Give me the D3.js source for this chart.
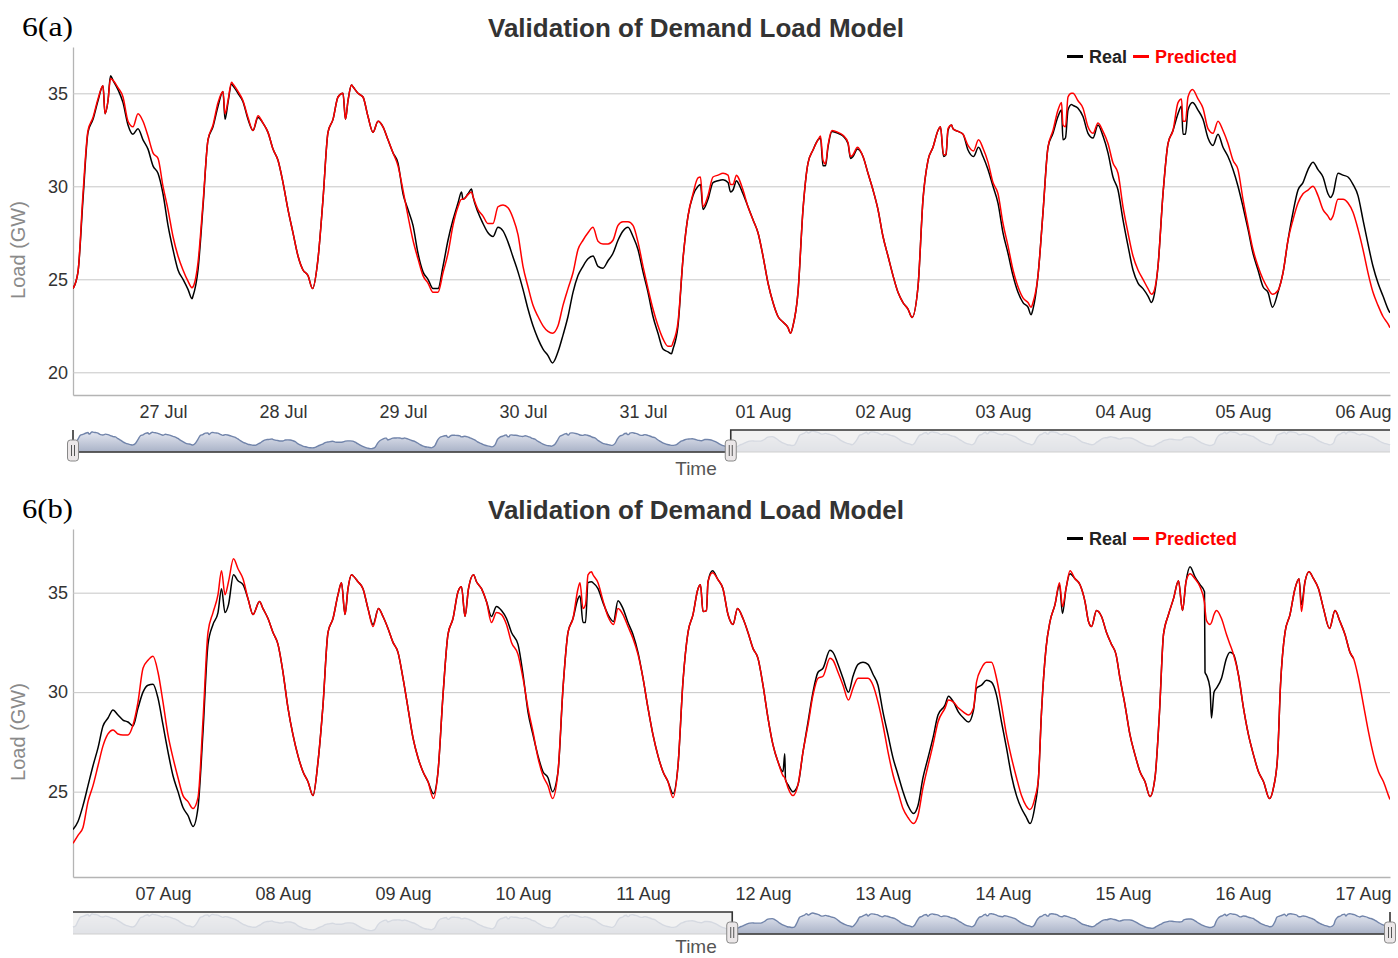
<!DOCTYPE html>
<html>
<head>
<meta charset="utf-8">
<script src="https://cdn.jsdelivr.net/npm/d3@7/dist/d3.min.js"></script>
<style>
html,body{margin:0;padding:0;background:#fff;}
svg{display:block;}
</style>
</head>
<body>
<svg id="chart"></svg>
<script>
// ================= DATA =================
const chartTitle = "Validation of Demand Load Model";
const yAxisTitle = "Load (GW)";
const xAxisTitle = "Time";
const seriesNames = ["Real", "Predicted"];
const seriesColors = ["#000000", "#ff0000"];

// Panel (a): hours since 26 Jul 00:00
const hoursA = [
  6,7,8,9,10,11,12,12.4,13,13.5,14,15,16,17,18,19,20,21,22,23,
  24,25,26,27,28,29,29.8,30,31,32,33,34,35,36,36.4,37,37.7,38,39,40,41,42,43,44,45,46,47,
  48,49,50,51,52,53,53.9,55,56,57,58,59,60,60.5,61,61.7,62,63,64,65,66,67,68,69,70,71,
  72,73,74,75,76,77,78,79,80,81,82,83,83.7,84,85,85.7,86,87,88,89,90,91,92,93,94,95,
  96,97,98,99,100,101,101.9,103,104,105,106,107,108,109,110,111,112,113,114,115,116,117,118,119,
  120,121,122,123,124,125,125.7,126,127,128,129,130,131,131.5,132,133,134,135,136,137,137.5,138,138.7,139,140,141,142,143,
  144,145,146,147,148,149,149.5,150,151,152,153,154,155,155.5,156,156.5,157,157.8,159,160,161,161.5,162,162.9,164,165,166,167,
  168,169,170,171,172,173,173.8,175,176,177,178,179,179.5,180.1,180.6,181,181.7,182,183,184,185,186.1,187.1,188,189,190,191,
  192,193,194,195,196,197,197.6,198,199,200,201,202,203,203.7,204,204.5,205,205.7,206,207,208,209,210,211,212,213,214,215,
  216,217,218,219,220,221,221.7,222,223,224,225,226,227,227.7,228,228.5,229,229.9,231,232,233,234,235,236,237,238,239,
  240,241,242,243,244,245,245.9,247,248,249,250,251,252,253,254,255,256,257,257.5,258,259,260,261,262,263,264,265,266,267,268,269,269.4
];
const realA = [
  24.5,25.4,29.3,32.9,33.6,34.6,35.4,33.9,34.6,35.95,35.7,35.2,34.5,33.3,32.8,33.1,32.5,32.0,31.1,30.7,
  29.6,27.9,26.6,25.5,25.0,24.46,23.96,24.1,25.5,28.9,32.5,33.2,34.3,35.1,33.6,34.5,35.5,35.4,35.0,34.55,33.6,33.0,33.7,33.4,32.9,32.0,31.4,
  30.2,28.75,27.5,26.25,25.5,25.2,24.5,26.1,29.3,32.9,33.6,34.8,35.0,33.6,34.6,35.45,35.35,35.0,34.8,33.75,32.9,33.5,33.2,32.5,31.8,31.25,
  29.6,28.75,27.9,26.4,25.4,25.0,24.5,24.5,25.7,27.1,28.2,29.1,29.7,29.3,29.6,29.85,29.45,28.6,28.0,27.5,27.3,27.8,27.6,27.0,26.2,25.4,
  24.46,23.4,22.5,21.8,21.25,20.9,20.5,21.1,22.0,23.0,24.3,25.2,25.7,26.1,26.25,25.7,25.6,26.0,26.4,27.1,27.6,27.8,27.3,26.6,
  25.4,24.3,23.0,22.1,21.25,21.1,21.0,21.25,22.5,26.1,28.4,29.5,30.0,30.1,28.75,29.3,30.2,30.3,30.35,30.2,29.7,29.8,30.3,30.2,29.6,28.9,28.2,27.5,
  26.25,24.8,23.75,23.0,22.7,22.4,22.1,22.5,24.3,28.75,31.25,31.95,32.5,32.6,31.1,31.1,32.1,32.95,32.85,32.7,32.3,31.5,31.6,32.0,31.6,30.7,29.8,28.75,
  27.3,26.25,25.2,24.3,23.75,23.4,22.95,24.6,29.3,31.4,32.1,33.0,33.2,31.6,31.7,33.0,33.3,33.1,32.95,32.8,31.95,31.6,32.1,31.6,30.9,30.0,29.1,
  27.5,26.4,25.2,24.3,23.75,23.5,23.1,23.4,25.2,28.6,32.1,32.85,33.75,34.1,32.5,32.6,34.1,34.4,34.35,34.2,33.75,32.85,32.6,33.3,32.7,31.8,30.5,29.8,
  28.2,26.8,25.5,24.8,24.5,24.1,23.75,23.9,25.7,29.6,32.3,33.0,33.9,34.3,32.8,32.8,34.1,34.5,34.1,33.6,32.6,32.2,32.8,32.1,31.6,30.9,30.0,
  28.9,27.7,26.4,25.5,24.6,24.3,23.5,24.3,25.35,27.1,28.6,29.8,30.2,30.9,31.3,30.9,30.5,29.6,29.4,29.6,30.7,30.6,30.5,30.1,29.5,28.2,26.9,25.7,24.8,24.1,23.4,23.2
];
const predA = [
  24.5,25.4,29.6,33.0,33.7,34.7,35.4,33.9,34.6,35.8,35.7,35.3,34.8,33.5,33.2,33.9,33.5,32.7,31.8,31.5,
  30.0,28.75,27.3,26.25,25.5,24.9,24.55,24.6,25.9,29.1,32.5,33.3,34.5,35.1,33.9,34.6,35.6,35.5,35.1,34.6,33.7,33.0,33.8,33.4,32.9,32.0,31.4,
  30.2,28.75,27.5,26.25,25.5,25.2,24.5,26.1,29.3,32.9,33.6,34.8,35.0,33.6,34.6,35.45,35.35,35.0,34.8,33.75,32.9,33.5,33.2,32.5,31.8,31.1,
  29.8,28.4,27.1,26.1,25.2,24.8,24.3,24.3,25.35,26.4,27.9,28.9,29.3,29.3,29.55,29.7,29.45,28.75,28.4,28.0,28.0,28.9,29.0,28.85,28.3,27.4,
  25.7,24.6,23.6,23.0,22.5,22.2,22.1,22.5,23.6,24.5,25.35,26.6,27.1,27.5,27.8,27.05,26.9,26.9,27.1,27.9,28.1,28.1,27.9,27.0,
  25.7,24.5,23.4,22.5,21.8,21.4,21.4,21.6,22.7,26.1,28.4,29.6,30.45,30.5,28.9,29.5,30.5,30.6,30.7,30.6,30.1,30.1,30.6,30.5,29.8,28.9,28.2,27.5,
  26.25,24.8,23.75,23.0,22.7,22.4,22.1,22.5,24.3,28.75,31.25,31.95,32.5,32.7,31.4,31.2,32.2,33.0,32.9,32.75,32.35,31.6,31.7,32.1,31.6,30.7,29.8,28.75,
  27.3,26.25,25.2,24.3,23.75,23.4,22.95,24.6,29.3,31.4,32.1,33.0,33.2,31.7,31.7,33.1,33.3,33.1,32.95,32.8,32.2,31.9,32.5,32.05,31.3,30.2,29.6,
  28.0,26.8,25.5,24.6,24.0,23.75,23.5,23.75,25.2,28.6,32.1,33.0,34.1,34.5,33.3,33.2,34.8,35.0,35.0,34.6,34.2,33.2,32.85,33.4,32.95,32.3,31.25,30.7,
  28.9,27.5,26.25,25.5,25.0,24.5,24.2,24.25,25.7,29.6,32.3,33.0,34.5,34.7,33.5,33.5,34.8,35.2,34.7,34.2,33.1,32.85,33.5,33.0,32.3,31.4,30.9,
  29.3,27.9,26.6,25.7,25.0,24.5,24.2,24.4,25.35,27.1,28.2,29.1,29.6,29.8,30.0,29.5,28.75,28.4,28.2,28.4,29.3,29.3,29.1,28.6,27.7,26.6,25.35,24.3,23.6,23.0,22.6,22.4
];

// Panel (b): hours since 06 Aug 00:00
const hoursB = [
  6,7,8,9,10,11,12,13,14,15,16,17,18,19,20,21,22,23,
  24,25,26,27,28,29,30,31,32,33,34,35,35.7,36.4,37.1,38.1,39,40,41,42,43.3,44,45,46,47,
  48,49,50,51,52,53,54,55,56,57,58,59,59.7,60.4,61,61.7,62,63,64,65,66,67.1,68,69,70,71,
  72,73,74,75,76,77,78.1,79,80,81,82,83,83.7,84.4,85.1,86.1,86.7,87.7,88.7,89.7,90.7,91.7,92.7,93.7,95,
  96,97,98,99,100,101,101.9,103,104,105,106,107,107.4,108,108.5,109,109.7,110,111,112,113,114.1,115,116,117,118,119,
  120,121,122,123,124,125,126,127,128,129,130,131,131.5,132,132.7,133,133.9,135,136,137,138,138.9,140,141,142,143,
  144,145,146,147,148,148.35,148.5,149,150,151,152,153,154,155,156,157.4,158,159,160,161.1,162,163,164,165,166,167,
  168,169,170,171,172,173,174.1,175,176,177,178,179,180.4,181.1,182.1,183.1,184.1,185.1,186.1,186.7,187.7,188.7,189.7,190.7,191.7,
  192.7,193.7,194.7,195.7,196.6,197.4,198.4,199.1,199.7,200.6,201.4,202.4,203.3,203.9,204.6,205.4,206.4,207.4,208.4,209.1,209.7,210.7,211.7,212.7,213.7,214.6,215.4,
  216.4,217.4,218.4,219.4,220.4,221.4,222.4,223.3,224.1,225.1,226.1,227.1,227.9,228.6,229.4,230.4,231.4,232.3,232.4,232.7,233.4,233.7,234.2,234.7,235.7,236.7,237.4,238.1,239.1,
  240.1,241.1,242.1,243.1,244.1,245.3,246.1,246.9,247.5,248.4,249.4,250.4,251.2,251.7,252.4,253.2,254.1,255.1,256.1,257.3,258.4,259.4,260.4,261.4,262.1,263.1,264.1,265.1,266.1,267.1,268.1,269.1,269.4
];
const realB = [
  23.1,23.5,24.3,25.3,26.3,27.2,28.3,28.7,29.1,28.85,28.6,28.5,28.3,29.2,30.0,30.35,30.4,29.7,
  28.35,27.0,25.8,25.0,24.2,23.8,23.25,24.2,28.0,32.4,33.4,34.0,35.2,34.0,34.4,35.9,35.6,35.4,34.7,33.9,34.55,34.2,33.7,33.0,32.4,
  31.0,29.2,27.85,26.8,26.0,25.5,24.8,26.5,29.35,33.0,33.7,34.9,35.5,33.9,35.2,35.9,35.85,35.55,35.2,34.2,33.4,34.2,33.8,33.2,32.5,32.0,
  30.7,29.2,27.7,26.7,26.0,25.5,24.9,26.0,29.85,32.9,33.7,35.05,35.3,33.8,35.2,35.9,35.55,35.2,34.55,33.8,34.3,34.1,33.7,33.0,32.4,
  30.9,29.0,27.85,26.8,26.0,25.7,25.0,26.0,30.2,33.0,33.7,34.7,34.85,33.5,33.5,35.5,35.55,35.5,35.2,34.5,33.9,33.55,34.6,34.2,33.5,32.9,32.0,
  30.7,29.2,27.85,26.8,26.0,25.5,24.9,26.3,30.55,33.0,33.9,35.2,35.4,34.05,34.1,35.55,36.1,35.65,35.2,33.9,33.4,34.2,33.7,33.0,32.2,31.7,
  30.35,28.7,27.35,26.5,26.0,26.9,25.6,25.35,25.0,25.35,27.0,28.5,30.0,31.0,31.2,32.1,32.0,31.4,30.7,30.0,30.8,31.4,31.5,31.4,30.9,30.35,
  29.0,27.85,26.7,25.85,25.0,24.3,23.9,24.3,25.7,26.7,27.7,28.85,29.35,29.8,29.5,29.0,28.7,28.5,29.1,30.2,30.35,30.6,30.5,29.85,28.5,
  27.2,25.8,24.8,24.15,23.75,23.4,24.3,25.7,29.0,32.2,33.55,34.4,35.4,33.95,35.2,35.95,35.7,35.4,34.55,33.55,33.3,34.1,33.8,33.0,32.4,31.9,30.7,
  29.35,27.85,26.85,26.0,25.5,24.75,25.7,29.0,32.9,33.9,34.7,35.6,34.1,35.55,36.3,35.8,35.4,35.05,31.0,30.85,30.2,28.7,30.0,30.2,30.7,31.7,32.0,31.9,30.85,
  29.2,27.85,26.85,26.0,25.5,24.65,25.2,26.7,30.35,33.0,33.9,35.2,35.7,34.4,35.55,36.05,35.7,35.2,34.2,33.2,34.1,33.55,32.9,32.0,31.7,null,null,null,null,null,null,null,null
];
const predB = [
  22.4,22.8,23.2,24.5,25.3,26.3,27.3,27.9,28.1,27.9,27.85,27.85,28.35,29.5,31.2,31.6,31.8,31.0,
  29.5,27.85,26.7,25.7,24.8,24.5,24.15,24.7,28.6,33.0,34.0,34.9,36.1,34.9,35.55,36.7,36.2,35.7,34.7,33.9,34.55,34.2,33.7,33.0,32.4,
  31.0,29.2,27.85,26.8,26.0,25.5,24.8,26.5,29.35,33.0,33.7,34.9,35.5,33.9,35.2,35.9,35.85,35.55,35.2,34.2,33.3,34.2,33.8,33.2,32.5,32.0,
  30.7,29.2,27.7,26.7,26.0,25.5,24.65,26.0,29.85,32.9,33.7,35.05,35.3,33.8,35.2,35.9,35.55,35.2,34.55,33.5,34.0,33.9,33.4,32.5,31.9,
  30.7,29.2,28.0,26.7,25.8,25.3,24.65,26.0,30.2,33.0,33.7,35.2,35.5,34.2,34.4,35.9,36.05,35.9,35.5,34.6,33.8,33.4,34.2,33.9,33.3,32.7,31.9,
  30.7,29.2,27.85,26.8,26.0,25.5,24.7,26.3,30.55,33.0,33.9,35.2,35.4,34.05,34.1,35.55,36.0,35.65,35.2,33.9,33.4,34.2,33.7,33.0,32.2,31.7,
  30.35,28.7,27.35,26.5,25.8,25.7,25.6,25.2,24.8,25.35,27.0,28.35,29.85,30.7,30.8,31.7,31.6,31.0,30.35,29.6,30.2,30.7,30.7,30.7,30.35,29.5,
  28.35,27.0,25.85,25.0,24.15,23.7,23.4,23.8,25.2,26.3,27.35,28.5,29.2,29.6,29.5,29.2,29.0,28.85,29.2,30.5,31.2,31.5,31.5,30.7,29.35,
  27.85,26.7,25.7,24.8,24.3,24.1,24.7,25.7,29.0,32.2,33.55,34.4,35.5,34.3,35.2,36.1,35.7,35.4,34.55,33.55,33.3,34.1,33.8,33.0,32.4,31.9,30.7,
  29.35,27.85,26.85,26.0,25.5,24.75,25.7,29.0,32.9,33.9,34.7,35.6,34.1,35.55,35.95,35.7,35.3,34.5,34.2,33.6,33.4,33.5,33.9,34.1,33.7,32.9,32.4,31.9,30.85,
  29.2,27.85,26.85,26.0,25.5,24.65,25.2,26.7,30.35,33.0,33.9,35.2,35.7,34.05,35.55,36.05,35.7,35.2,34.2,33.2,34.1,33.55,32.9,32.0,31.7,30.7,29.35,28.0,26.85,26.0,25.5,24.8,24.6
];

const xTickLabelsA = ["27 Jul","28 Jul","29 Jul","30 Jul","31 Jul","01 Aug","02 Aug","03 Aug","04 Aug","05 Aug","06 Aug"];
const xTickLabelsB = ["07 Aug","08 Aug","09 Aug","10 Aug","11 Aug","12 Aug","13 Aug","14 Aug","15 Aug","16 Aug","17 Aug"];
const yTicksA = [20, 25, 30, 35];
const yTicksB = [25, 30, 35];

if (hoursA.length !== realA.length || hoursA.length !== predA.length) throw new Error("A lengths");
if (hoursB.length !== realB.length || hoursB.length !== predB.length) throw new Error("B lengths");

// ================= DRAWING =================
const W = 1398, H = 958;
const L = 73, R = 1390;
const FONT = '"Liberation Sans", Arial, Helvetica, sans-serif';
const svg = d3.select("#chart").attr("width", W).attr("height", H);
const defs = svg.append("defs");
const grad = defs.append("linearGradient").attr("id", "navFill")
  .attr("x1", 0).attr("y1", 0).attr("x2", 0).attr("y2", 1);
grad.append("stop").attr("offset", "0").attr("stop-color", "#e6e9f2");
grad.append("stop").attr("offset", "1").attr("stop-color", "#a9b2c7");

// navigator series covers both panels (hours since 26 Jul 00:00)
const navHours = hoursA.concat(hoursB.map(h => h + 264));
const navVals = predA.concat(predB);

const panels = [
  { tag: "6(a)", dy: 0, timeY: 475, hours: hoursA, real: realA, pred: predA, yDomain: [18.78, 37.49],
    yTicks: yTicksA, labels: xTickLabelsA, view: [6, 269.4], navView: [6, 269.4] },
  { tag: "6(b)", dy: 482, timeY: 953, hours: hoursB, real: realB, pred: predB, yDomain: [20.71, 38.2],
    yTicks: yTicksB, labels: xTickLabelsB, view: [6, 269.4], navView: [270, 533.4] }
];

panels.forEach((p, pi) => {
  const g = svg.append("g");
  const top = 47 + p.dy, bottom = 395 + p.dy;
  const x = d3.scaleLinear().domain(p.view).range([L, R]);
  const y = d3.scaleLinear().domain(p.yDomain).range([bottom, top]);

  defs.append("clipPath").attr("id", "clip" + pi).append("rect")
    .attr("x", L).attr("y", top).attr("width", R - L).attr("height", bottom - top);

  // y axis + gridlines
  const yg = g.append("g").attr("transform", `translate(${L},0)`)
    .call(d3.axisLeft(y).tickValues(p.yTicks).tickSize(-(R - L)).tickSizeOuter(0).tickPadding(5));
  yg.select(".domain").attr("stroke", "#b4b4b4").attr("stroke-width", 1.3);
  yg.selectAll(".tick line").attr("stroke", "#c6c6c6").attr("stroke-width", 1);
  yg.selectAll(".tick text").attr("font-family", FONT).attr("font-size", 18).attr("fill", "#333");

  // x axis
  const xg = g.append("g").attr("transform", `translate(0,${bottom})`)
    .call(d3.axisBottom(x)
      .tickValues(p.labels.map((_, i) => 24 * (i + 1)))
      .tickFormat((d, i) => p.labels[i])
      .tickSize(0).tickSizeOuter(0).tickPadding(10));
  xg.select(".domain").attr("stroke", "#b4b4b4").attr("stroke-width", 1.3);
  xg.selectAll(".tick text").attr("font-family", FONT).attr("font-size", 18).attr("fill", "#333");

  // series lines
  const plot = g.append("g").attr("clip-path", `url(#clip${pi})`);
  const lineGen = d3.line().defined(d => d[1] != null).curve(d3.curveMonotoneX)
    .x(d => x(d[0])).y(d => y(d[1]));
  [[p.real, seriesColors[0]], [p.pred, seriesColors[1]]].forEach(([vals, col]) => {
    plot.append("path").datum(p.hours.map((h, i) => [h, vals[i]]))
      .attr("d", lineGen).attr("fill", "none").attr("stroke", col)
      .attr("stroke-width", 1.5).attr("stroke-linejoin", "round");
  });

  // title
  g.append("text").attr("x", 696).attr("y", 37 + p.dy).attr("text-anchor", "middle")
    .attr("font-family", FONT).attr("font-size", 26).attr("font-weight", "bold").attr("fill", "#333")
    .text(chartTitle);

  // figure tag
  g.append("text").attr("x", 22).attr("y", 36 + p.dy)
    .attr("font-family", '"Liberation Serif", "Times New Roman", serif').attr("font-size", 28)
    .attr("fill", "#000").attr("textLength", 51).attr("lengthAdjust", "spacingAndGlyphs")
    .text(p.tag);

  // y axis title
  g.append("text").attr("transform", `translate(25,${250 + p.dy}) rotate(-90)`)
    .attr("text-anchor", "middle").attr("font-family", FONT).attr("font-size", 20).attr("fill", "#8a8a8a")
    .text(yAxisTitle);

  // legend
  let lx = 1067; const ly = 56.5 + p.dy;
  seriesNames.forEach((name, si) => {
    g.append("line").attr("x1", lx).attr("x2", lx + 16).attr("y1", ly).attr("y2", ly)
      .attr("stroke", seriesColors[si]).attr("stroke-width", 3);
    const t = g.append("text").attr("x", lx + 22).attr("y", ly).attr("dy", "0.35em")
      .attr("font-family", FONT).attr("font-size", 18).attr("font-weight", "bold")
      .attr("fill", si === 0 ? "#222" : seriesColors[si]).text(name);
    lx += 22 + t.node().getComputedTextLength() + 6;
  });

  // navigator
  const nTop = 430 + p.dy, nBot = 452 + p.dy;
  const nx = d3.scaleLinear().domain([navHours[0], navHours[navHours.length - 1]]).range([L, R]);
  const ny = d3.scaleLinear().domain([18.5, 37.5]).range([nBot, nTop]);
  const navPts = navHours.map((h, i) => [h, navVals[i]]).filter(d => d[1] != null);
  g.append("path").datum(navPts)
    .attr("d", d3.area().curve(d3.curveMonotoneX).x(d => nx(d[0])).y0(nBot).y1(d => ny(d[1])))
    .attr("fill", "url(#navFill)");
  g.append("path").datum(navPts)
    .attr("d", d3.line().curve(d3.curveMonotoneX).x(d => nx(d[0])).y(d => ny(d[1])))
    .attr("fill", "none").attr("stroke", "#7184aa").attr("stroke-width", 1.4);
  const s0 = nx(p.navView[0]), s1 = nx(p.navView[1]);
  [[L, s0], [s1, R]].filter(([a, b]) => b - a > 1).forEach(([a, b]) => {
    g.append("rect").attr("x", a).attr("y", nTop).attr("width", b - a).attr("height", nBot - nTop)
      .attr("fill", "#efefef").attr("fill-opacity", 0.8);
  });
  g.append("line").attr("x1", L).attr("x2", R).attr("y1", nBot).attr("y2", nBot)
    .attr("stroke", "#cfcfcf").attr("stroke-width", 1);
  g.append("path").attr("d", `M${L},${nTop}H${s0}V${nBot}H${s1}V${nTop}H${R}`)
    .attr("fill", "none").attr("stroke", "#333").attr("stroke-width", 1.6);
  [s0, s1].forEach(hx => {
    const hg = g.append("g").attr("transform", `translate(${hx},${nTop + 10})`);
    hg.append("rect").attr("x", -5.5).attr("y", 0).attr("width", 11).attr("height", 21).attr("rx", 3)
      .attr("fill", "#ebe7e8").attr("stroke", "#888").attr("stroke-width", 1);
    [-1.5, 1.5].forEach(gx => hg.append("line").attr("x1", gx).attr("x2", gx).attr("y1", 5).attr("y2", 16)
      .attr("stroke", "#555").attr("stroke-width", 1));
  });

  // x axis title
  g.append("text").attr("x", 696).attr("y", p.timeY).attr("text-anchor", "middle")
    .attr("font-family", FONT).attr("font-size", 19).attr("fill", "#555")
    .text(xAxisTitle);
});
</script>
</body>
</html>
